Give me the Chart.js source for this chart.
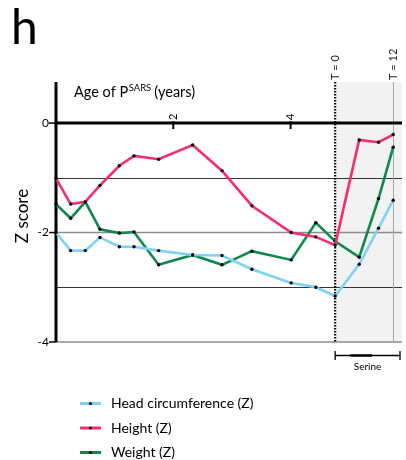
<!DOCTYPE html>
<html><head><meta charset="utf-8">
<script src="https://cdn.jsdelivr.net/npm/chart.js@4/dist/chart.umd.min.js"></script>
<style>html,body{margin:0;padding:0;background:#fff;}#wrap{position:relative;width:406px;height:460px;}</style>
</head><body><div id="wrap"><canvas id="c" width="406" height="460"></canvas></div>
<script>
// Age of the patient at each visit, in years
const ageYears = [0, 0.25, 0.5, 0.75, 1.08, 1.33, 1.75, 2.33, 2.83, 3.34, 4.01, 4.43, 4.76, 5.17, 5.5, 5.75];
// Growth Z scores per visit
const headCircumference = [-2.00, -2.33, -2.33, -2.09, -2.26, -2.26, -2.33, -2.41, -2.42, -2.67, -2.92, -3.00, -3.16, -2.58, -1.92, -1.41];
const heightZ = [-1.01, -1.48, -1.44, -1.14, -0.78, -0.60, -0.66, -0.40, -0.87, -1.51, -2.00, -2.08, -2.23, -0.31, -0.35, -0.21];
const weightZ = [-1.48, -1.74, -1.44, -1.94, -2.01, -1.99, -2.59, -2.41, -2.59, -2.34, -2.50, -1.82, -2.16, -2.45, -1.38, -0.44];
const seriesNames = ['Head circumference (Z)', 'Height (Z)', 'Weight (Z)'];
const xTickValues = [2, 4];
const yTickValues = [0, -2, -4];
const gridValues = [-1, -2, -3, -4];
// Serine treatment window (T = 0 to T = 12 months)
const serineStart = 4.76;
const serineMonth12 = 5.75;
const markerLabels = ['T = 0', 'T = 12'];

const colors = ['#7fd2f6', '#f52d6d', '#0b8a4c'];
const FONT = 'Lato, "Open Sans", sans-serif';

const toPts = arr => arr.map((v, i) => ({x: ageYears[i], y: v}));
const seriesData = [headCircumference, heightZ, weightZ];

const decor = {
  id: 'decor',
  beforeDatasetsDraw(chart) {
    const {ctx, chartArea: a, scales: {x, y}} = chart;
    ctx.save();
    // treatment window shading
    const xs = x.getPixelForValue(serineStart);
    ctx.fillStyle = '#f2f2f2';
    ctx.fillRect(xs, a.top, a.right - xs, a.bottom - a.top);
    // horizontal reference lines
    gridValues.forEach(v => {
      const py = y.getPixelForValue(v);
      const even = v % 2 === 0;
      ctx.strokeStyle = even ? '#8c8c8c' : '#333';
      ctx.lineWidth = even ? 1.6 : 1;
      ctx.beginPath();
      ctx.moveTo(a.left, even ? py : Math.round(py) + 0.5);
      ctx.lineTo(a.right, even ? py : Math.round(py) + 0.5);
      ctx.stroke();
    });
    // T = 12 marker
    const x12 = x.getPixelForValue(serineMonth12);
    ctx.strokeStyle = '#a8a8a8';
    ctx.lineWidth = 1;
    ctx.beginPath();
    ctx.moveTo(Math.round(x12) + 0.5, a.top);
    ctx.lineTo(Math.round(x12) + 0.5, a.bottom);
    ctx.stroke();
    // T = 0 marker (dotted)
    ctx.strokeStyle = '#000';
    ctx.lineWidth = 2.2;
    ctx.setLineDash([1.6, 1.4]);
    ctx.beginPath();
    ctx.moveTo(xs, a.top);
    ctx.lineTo(xs, a.bottom);
    ctx.stroke();
    ctx.setLineDash([]);
    // axes
    const y0 = y.getPixelForValue(0);
    ctx.strokeStyle = '#000';
    ctx.lineWidth = 3;
    ctx.beginPath();
    ctx.moveTo(a.left, a.top);
    ctx.lineTo(a.left, a.bottom);
    ctx.stroke();
    ctx.beginPath();
    ctx.moveTo(a.left - 1.5, y0);
    ctx.lineTo(a.right, y0);
    ctx.stroke();
    // x ticks
    ctx.lineWidth = 2;
    xTickValues.forEach(v => {
      const px = x.getPixelForValue(v);
      ctx.beginPath();
      ctx.moveTo(px, y0 - 2);
      ctx.lineTo(px, y0 + 6);
      ctx.stroke();
    });
    // y ticks
    ctx.lineWidth = 1.5;
    yTickValues.forEach(v => {
      const py = y.getPixelForValue(v);
      ctx.beginPath();
      ctx.moveTo(a.left - 7, py);
      ctx.lineTo(a.left, py);
      ctx.stroke();
    });
    ctx.restore();
  },
  afterDraw(chart) {
    const {ctx, chartArea: a, scales: {x, y}} = chart;
    ctx.save();
    ctx.fillStyle = '#000';
    // panel letter
    ctx.font = '48px ' + FONT;
    ctx.textBaseline = 'alphabetic';
    ctx.textAlign = 'left';
    ctx.fillText('h', 11, 44);
    // y title
    ctx.save();
    ctx.translate(23, 216);
    ctx.rotate(-Math.PI / 2);
    ctx.font = '17px ' + FONT;
    ctx.textAlign = 'center';
    ctx.textBaseline = 'middle';
    ctx.fillText('Z score', 0, 0);
    ctx.restore();
    // x title with superscript
    ctx.font = '14.5px ' + FONT;
    ctx.textAlign = 'left';
    let tx = 74;
    const ty = 97;
    ctx.fillText('Age of P', tx, ty);
    tx += ctx.measureText('Age of P').width;
    ctx.font = '9.5px ' + FONT;
    ctx.fillText('SARS', tx + 0.5, ty - 6);
    tx += ctx.measureText('SARS').width + 3.5;
    ctx.font = '14.5px ' + FONT;
    ctx.fillText('(years)', tx, ty);
    // y tick labels
    ctx.font = '12px ' + FONT;
    ctx.textAlign = 'right';
    ctx.textBaseline = 'middle';
    yTickValues.forEach(v => {
      ctx.fillText(v === 0 ? '0' : '-' + Math.abs(v), a.left - 7, y.getPixelForValue(v));
    });
    // x tick labels (rotated, above the axis)
    const y0 = y.getPixelForValue(0);
    ctx.font = '11px ' + FONT;
    xTickValues.forEach(v => {
      ctx.save();
      ctx.translate(x.getPixelForValue(v), y0 - 3);
      ctx.rotate(-Math.PI / 2);
      ctx.textAlign = 'left';
      ctx.textBaseline = 'middle';
      ctx.fillText(String(v), 0, 0);
      ctx.restore();
    });
    // T markers
    [serineStart, serineMonth12].forEach((v, i) => {
      ctx.save();
      ctx.translate(x.getPixelForValue(v), a.top - 2);
      ctx.rotate(-Math.PI / 2);
      ctx.textAlign = 'left';
      ctx.textBaseline = 'middle';
      ctx.font = '11px ' + FONT;
      ctx.fillStyle = '#222';
      ctx.fillText(markerLabels[i], 0, 0);
      ctx.restore();
    });
    // Serine bracket
    const bx0 = x.getPixelForValue(serineStart);
    const bx1 = a.right - 2;
    const by = 355.5;
    ctx.strokeStyle = '#000';
    ctx.lineWidth = 1.3;
    ctx.beginPath();
    ctx.moveTo(bx0, by); ctx.lineTo(bx1, by);
    ctx.moveTo(bx0, by - 4.5); ctx.lineTo(bx0, by + 4.5);
    ctx.moveTo(bx1, by - 4.5); ctx.lineTo(bx1, by + 4.5);
    ctx.stroke();
    ctx.lineWidth = 2.4;
    ctx.beginPath();
    ctx.moveTo(bx0 + 15, by); ctx.lineTo(bx0 + 37, by);
    ctx.stroke();
    ctx.font = '10px ' + FONT;
    ctx.textAlign = 'center';
    ctx.textBaseline = 'middle';
    ctx.fillText('Serine', (bx0 + bx1) / 2, 367);
    // legend
    const legY = [403.5, 428, 452.5];
    seriesNames.forEach((name, i) => {
      ctx.strokeStyle = colors[i];
      ctx.lineWidth = 3;
      ctx.beginPath();
      ctx.moveTo(80, legY[i]); ctx.lineTo(101, legY[i]);
      ctx.stroke();
      ctx.fillStyle = '#000';
      ctx.beginPath();
      ctx.arc(90.5, legY[i], 1.6, 0, Math.PI * 2);
      ctx.fill();
      ctx.font = '14px ' + FONT;
      ctx.textAlign = 'left';
      ctx.textBaseline = 'middle';
      ctx.fillText(name, 111, legY[i]);
    });
    ctx.restore();
  }
};

new Chart(document.getElementById('c'), {
  type: 'line',
  data: {
    datasets: seriesData.map((d, i) => ({
      label: seriesNames[i],
      data: toPts(d),
      borderColor: colors[i],
      borderWidth: 2.6,
      pointRadius: 1.7,
      pointBackgroundColor: '#000',
      pointBorderWidth: 0,
      tension: 0,
      clip: false
    }))
  },
  options: {
    responsive: false,
    animation: false,
    devicePixelRatio: 1,
    layout: {padding: {left: 56, top: 82, right: 0, bottom: 118}},
    plugins: {legend: {display: false}, tooltip: {enabled: false}},
    scales: {
      x: {type: 'linear', min: 0, max: 5.9, display: false},
      y: {type: 'linear', min: -4, max: 0.75, display: false}
    }
  },
  plugins: [decor]
});
</script>
</body></html>
